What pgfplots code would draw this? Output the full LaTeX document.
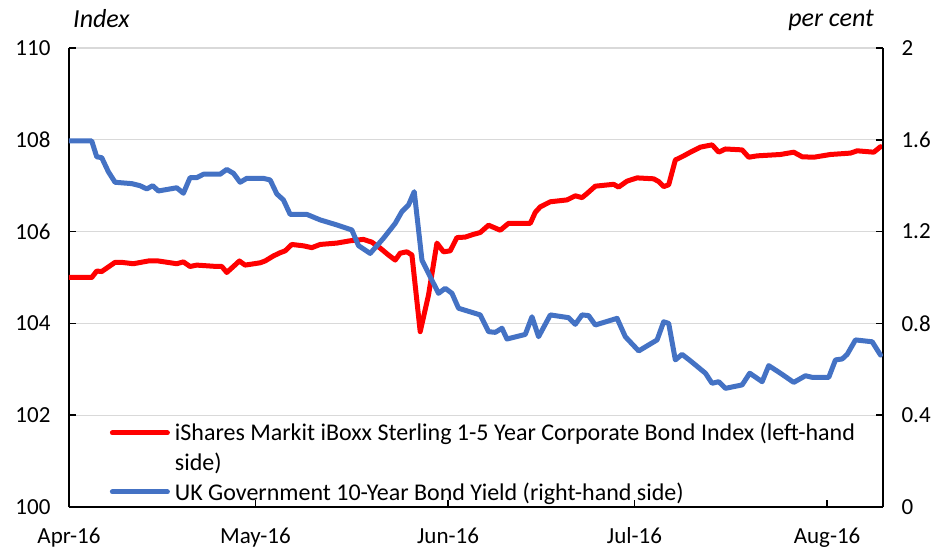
\documentclass[border=0pt]{standalone}
\usepackage{fontspec}
\setmainfont{Carlito}
\usepackage{pgfplots}
\pgfplotsset{compat=1.18}
\definecolor{exred}{RGB}{255,0,0}
\definecolor{exblue}{RGB}{68,114,196}
\definecolor{gridgray}{RGB}{217,217,217}
\newcommand\cf{\fontsize{23}{28}\selectfont}
\newcommand\lf{\fontsize{24}{29}\selectfont}
\newcommand\tf{\fontsize{26}{31}\selectfont}
\begin{document}
\begin{tikzpicture}
\useasboundingbox (-69pt,-45pt) rectangle (870pt,507pt);
\pgfplotsset{
  common/.style={
    scale only axis, width=814pt, height=459pt, at={(0,0)}, anchor=south west,
    xmin=0, xmax=131,
    tick align=inside, major tick length=7pt,
    every tick/.style={black, line width=1.5pt},
    axis line style={black, line width=1.5pt, -},
    tick label style={font=\cf},
  }
}
\begin{axis}[common, name=ax1,
  axis x line*=bottom, axis y line*=left,
  ymin=100, ymax=110, ytick={100,102,104,106,108,110},
  yticklabels={100,102,104,106,108,110},
  xtick={0,30,61,91,122}, xticklabels={Apr-16,May-16,Jun-16,Jul-16,Aug-16},
  ymajorgrids, major grid style={gridgray, line width=1.3pt},
  yticklabel shift=15pt, xticklabel shift=17pt,
]
\addplot[exred, line width=5pt, line join=round, line cap=round] coordinates {
(0,105.00) (3.66,105.00) (4.46,105.14) (5.27,105.13) (7.41,105.33) (8.49,105.33)
(10.35,105.30) (12.77,105.36) (14.38,105.36) (17.34,105.30) (18.41,105.34) (19.48,105.24)
(20.56,105.27) (23.78,105.24) (24.59,105.24) (25.39,105.11) (26.46,105.24) (27.42,105.36)
(28.34,105.27) (30.76,105.32) (31.56,105.36) (32.90,105.47) (33.98,105.54) (34.78,105.58)
(35.86,105.72) (37.73,105.69) (39.08,105.65) (40.42,105.72) (43.11,105.75) (45.25,105.80)
(47.39,105.83) (48.74,105.77) (50.08,105.64) (51.42,105.49) (52.50,105.38) (53.30,105.53)
(54.38,105.56) (55.19,105.49) (56.52,103.82) (57.86,104.62) (59.21,105.75) (60.27,105.56)
(61.35,105.58) (62.43,105.87) (63.77,105.88) (65.10,105.94) (66.18,105.98) (67.52,106.14)
(69.40,106.03) (70.74,106.18) (74.24,106.18) (75.04,106.42) (75.85,106.54) (77.46,106.65)
(80.14,106.69) (81.48,106.78) (82.56,106.74) (83.37,106.83) (84.70,106.99) (87.65,107.03)
(88.45,106.97) (89.81,107.10) (91.42,107.17) (94.09,107.15) (94.90,107.09) (95.70,106.98)
(96.51,107.02) (97.58,107.56) (98.92,107.65) (100.00,107.73) (101.61,107.84) (103.49,107.89)
(104.56,107.73) (105.64,107.80) (108.33,107.78) (109.39,107.62) (110.74,107.65) (114.49,107.68)
(116.63,107.73) (117.99,107.63) (119.86,107.62) (122.54,107.68) (125.76,107.71) (126.84,107.76)
(129.52,107.73) (130.60,107.85)
};
\end{axis}
\begin{axis}[common,
  axis x line=none, axis y line*=right,
  ymin=0, ymax=2, ytick={0,0.4,0.8,1.2,1.6,2},
  yticklabels={0,0.4,0.8,1.2,1.6,2},
  yticklabel shift=15pt,
  legend cell align=left,
  legend image code/.code={\draw[#1] (0pt,0pt) -- (55pt,0pt);},
  legend style={draw=none, fill=none, at={(axis description cs:0.05,0.187)}, anchor=north west,
    font=\lf, inner sep=0pt, row sep=6.5pt, column sep=3pt},
]
\addlegendimage{exred, line width=5pt, line cap=round}
\addlegendentry{iShares Markit iBoxx Sterling 1-5 Year Corporate Bond Index (left-hand}
\addlegendimage{empty legend}
\addlegendentry{side)}
\addplot[exblue, line width=5pt, line join=round, line cap=round] coordinates {
(0,1.595) (3.66,1.595) (4.46,1.526) (5.27,1.522) (6.33,1.461) (7.41,1.415) (10.10,1.409)
(11.43,1.400) (12.51,1.386) (13.48,1.400) (14.38,1.377) (17.34,1.391) (18.41,1.367)
(19.48,1.435) (20.56,1.435) (21.63,1.450) (24.32,1.450) (25.39,1.471) (26.46,1.454)
(27.54,1.415) (28.61,1.432) (31.29,1.432) (32.37,1.425) (33.45,1.364) (34.51,1.338)
(35.59,1.275) (38.28,1.275) (40.42,1.251) (43.11,1.229) (45.52,1.207) (46.59,1.139)
(48.47,1.105) (50.61,1.171) (52.50,1.236) (53.57,1.287) (54.64,1.316) (55.56,1.374)
(56.80,1.076) (58.13,1.003) (59.47,0.931) (60.55,0.953) (61.63,0.931) (62.69,0.866)
(66.18,0.837) (67.52,0.764) (68.60,0.761) (69.68,0.779) (70.48,0.732) (73.43,0.752)
(74.51,0.829) (75.57,0.742) (77.46,0.837) (80.40,0.825) (81.48,0.796) (82.56,0.837)
(83.62,0.834) (84.70,0.793) (88.20,0.822) (89.53,0.742) (91.68,0.680) (94.64,0.728)
(95.70,0.807) (96.51,0.800) (97.58,0.641) (98.66,0.665) (100.00,0.637) (102.42,0.583)
(103.49,0.539) (104.56,0.546) (105.64,0.517) (108.33,0.532) (109.55,0.583) (111.55,0.546)
(112.61,0.616) (114.49,0.583) (116.63,0.543) (118.52,0.572) (119.60,0.565) (122.27,0.565)
(123.35,0.641) (124.43,0.645) (125.23,0.665) (126.57,0.728) (129.26,0.720) (130.60,0.662)
};
\addlegendentry{UK Government 10-Year Bond Yield (right-hand side)}
\end{axis}
\node[anchor=base west, font=\tf\itshape, inner sep=0pt] at ([xshift=4pt, yshift=20pt]ax1.north west) {Index};
\node[anchor=base east, font=\tf\itshape, inner sep=0pt] at ([xshift=-9pt, yshift=21pt]ax1.north east) {per cent};
\end{tikzpicture}
\end{document}
